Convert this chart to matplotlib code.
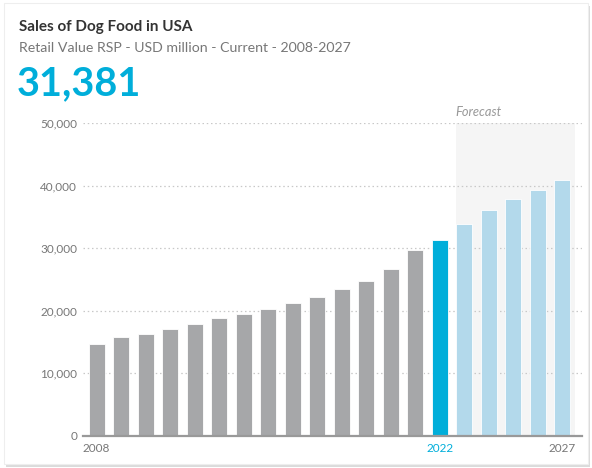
import matplotlib
matplotlib.use("Agg")
import matplotlib.pyplot as plt
from matplotlib.patches import Rectangle

years = list(range(2008, 2028))
values = [14600, 15750, 16300, 17050, 17950, 18900, 19450, 20250, 21200, 22200,
          23400, 24700, 26650, 29650, 31381, 33900, 36150, 37850, 39350, 40900]
current_year = 2022
forecast_start = 2023
yticks = [0, 10000, 20000, 30000, 40000, 50000]
xtick_years = [2008, 2022, 2027]
title = "Sales of Dog Food in USA"
subtitle = "Retail Value RSP - USD million - Current - 2008-2027"
headline = "31,381"

FONT = ["Lato", "DejaVu Sans"]
plt.rcParams['font.family'] = FONT

GRAY = "#A6A7A9"
CYAN = "#00AEDA"
LIGHT = "#B3D9EB"
SHADE = "#F5F5F5"

fig = plt.figure(figsize=(5.92, 4.68), dpi=100)
W, H = 592, 468

# card background with shadow
bg = fig.add_axes([0, 0, 1, 1])
bg.set_xlim(0, W); bg.set_ylim(H, 0); bg.axis("off")
bg.add_patch(Rectangle((6, 6), 584, 461, facecolor="#9a9a9a", edgecolor="none", alpha=0.35))
bg.add_patch(Rectangle((4, 3), 584, 461, facecolor="white", edgecolor="#eeeeee", lw=0.8))

fig.text(19 / W, 1 - 31 / H, title, fontsize=11, fontweight="bold", color="#333333",
         ha="left", va="baseline")
fig.text(19 / W, 1 - 52.5 / H, subtitle, fontsize=10.2, color="#777777",
         ha="left", va="baseline")
fig.text(17 / W, 1 - 95 / H, headline, fontsize=28.5, fontweight="bold", color=CYAN,
         ha="left", va="baseline")

left, right, top, bottom = 82.7, 582, 123.3, 435.7
ax = fig.add_axes([left / W, 1 - bottom / H, (right - left) / W, (bottom - top) / H])
ax.patch.set_alpha(0)

idx = list(range(len(years)))
colors = []
for y in years:
    if y == current_year:
        colors.append(CYAN)
    elif y >= forecast_start:
        colors.append(LIGHT)
    else:
        colors.append(GRAY)

fi = years.index(forecast_start)
ax.axvspan(fi - 0.35, len(years) - 1 + 0.53, color=SHADE, zorder=0, lw=0)
ax.bar(idx, values, width=0.65, color=colors, edgecolor="white", linewidth=0.6, zorder=3)

ax.set_xlim(-0.57, len(years) - 1 + 0.81)
ax.set_ylim(0, 50000)
ax.set_yticks(yticks)
ax.set_yticklabels([f"{v:,}" for v in yticks], fontsize=8.5, color="#777777")
ax.yaxis.grid(True, linestyle=(0, (1.2, 2.2)), color="#c8c8c8", lw=0.9, zorder=1)
ax.tick_params(axis="y", length=0, pad=4)

xt = [years.index(y) for y in xtick_years]
ax.set_xticks(xt)
ax.set_xticklabels([str(y) for y in xtick_years], fontsize=8.5)
for lbl, y in zip(ax.get_xticklabels(), xtick_years):
    lbl.set_color(CYAN if y == current_year else "#777777")
ax.tick_params(axis="x", length=0, pad=5)

for s in ["top", "right", "left"]:
    ax.spines[s].set_visible(False)
ax.spines["bottom"].set_color("#999999")
ax.spines["bottom"].set_linewidth(1.6)
ax.spines["bottom"].set_zorder(4)

ax.text(fi - 0.35, 50800, "Forecast", fontsize=9.3, style="italic", color="#999999",
        ha="left", va="bottom")

fig.savefig("out.png", dpi=100)
